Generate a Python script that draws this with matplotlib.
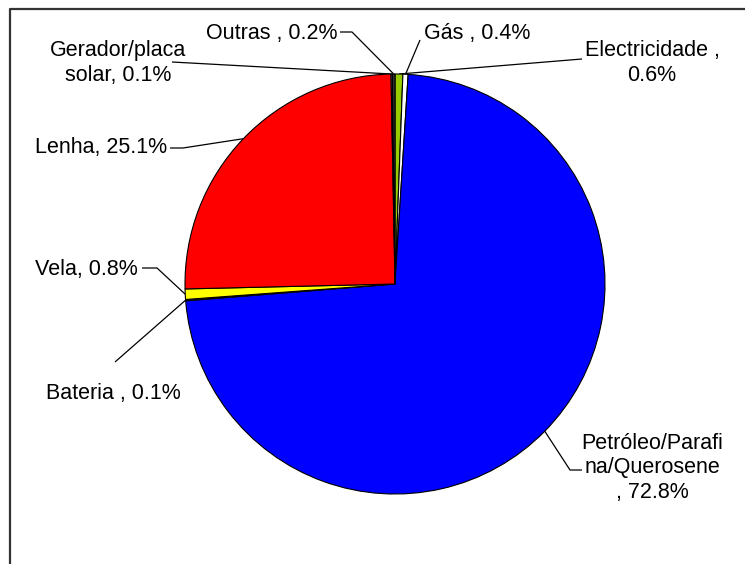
import numpy as np
import matplotlib
matplotlib.use("Agg")
import matplotlib.pyplot as plt

# ---- data ----
categories = ["Electricidade", "Gás", "Petróleo/Parafina/Querosene", "Bateria",
              "Vela", "Lenha", "Gerador/placa solar", "Outras"]
values = [0.6, 0.4, 72.8, 0.1, 0.8, 25.1, 0.1, 0.2]
label_texts = ["Electricidade ,\n0.6%", "Gás , 0.4%", "Petróleo/Parafi\nna/Querosene\n, 72.8%",
               "Bateria , 0.1%", "Vela, 0.8%", "Lenha, 25.1%", "Gerador/placa\nsolar, 0.1%",
               "Outras , 0.2%"]
colors = ["#99CC00", "#FFFFFF", "#0000FF", "#9999FF", "#FFFF00", "#FF0000", "#CCCCFF", "#333333"]

W, H = 745, 564
plt.rcParams['font.family'] = ['Liberation Sans', 'DejaVu Sans']
fig = plt.figure(figsize=(W / 100, H / 100), dpi=100)
ax = fig.add_axes([0, 0, 1, 1])
ax.set_xlim(0, W)
ax.set_ylim(H, 0)
ax.axis("off")

cx, cy, R = 395, 284, 210

pax = fig.add_axes([0, 0, 1, 1])
wedges, _ = pax.pie(values, colors=colors, startangle=90, counterclock=False,
                    center=(cx, H - cy), radius=R, frame=True,
                    wedgeprops=dict(edgecolor="black", linewidth=0.8))
pax.set_xlim(0, W)
pax.set_ylim(0, H)
pax.set_aspect("auto")
pax.axis("off")

def edge_point(i):
    w = wedges[i]
    mid = np.deg2rad((w.theta1 + w.theta2) / 2)
    return cx + R * np.cos(mid), cy - R * np.sin(mid)

fs = 15.5
layout = {
    0: (652, 63, "center", [(582, 59)]),
    1: (477, 34, "center", [(420, 40)]),
    2: (652, 468, "center", [(582, 470), (570, 470)]),
    3: (113, 394, "center", [(115, 362)]),
    4: (35, 270, "left", [(142, 268), (157, 268)]),
    5: (35, 148, "left", [(170, 148), (183, 148)]),
    6: (118, 63, "center", [(172, 62)]),
    7: (272, 34, "center", [(340, 32), (352, 32)]),
}
for i, (x, y, ha, pts) in layout.items():
    ax.text(x, y, label_texts[i], ha=ha, va="center", fontsize=fs,
            color="black", linespacing=1.2, multialignment="center")
    ex, ey = edge_point(i)
    xs = [p[0] for p in pts] + [ex]
    ys = [p[1] for p in pts] + [ey]
    ax.plot(xs, ys, color="black", linewidth=0.9, solid_capstyle="butt")

# outer frame (partially visible)
ax.plot([10, 10, W + 5], [H + 5, 9, 9], color="#333333", linewidth=1.6)

fig.savefig("out.png", dpi=100)
